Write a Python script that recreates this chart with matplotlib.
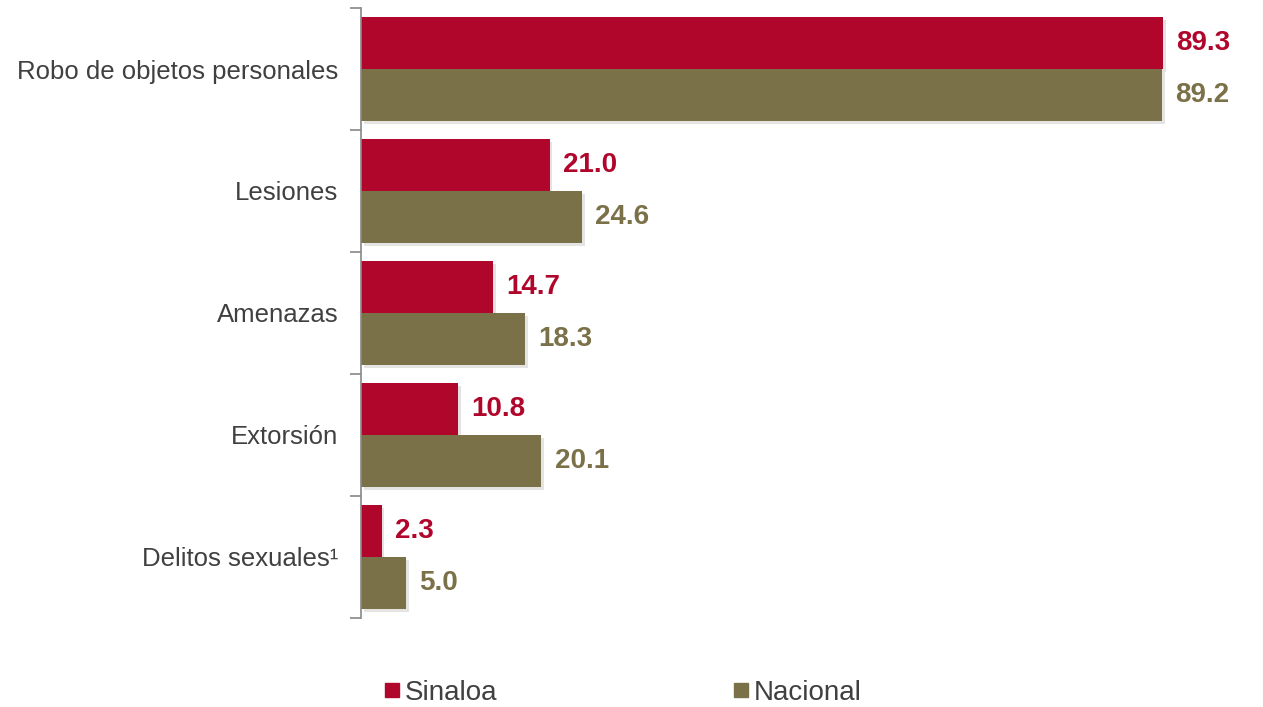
import matplotlib.pyplot as plt
import matplotlib.patheffects as pe
from matplotlib.lines import Line2D
import numpy as np

categories = ['Robo de objetos personales', 'Lesiones', 'Amenazas', 'Extorsión', 'Delitos sexuales¹']
sinaloa = [89.3, 21.0, 14.7, 10.8, 2.3]
nacional = [89.2, 24.6, 18.3, 20.1, 5.0]

red = '#B0062C'
olive = '#7B7149'

plt.rcParams['font.family'] = ['Liberation Sans', 'DejaVu Sans']

fig = plt.figure(figsize=(12.63, 7.07), dpi=100)
ax = fig.add_axes([361 / 1263, 89 / 707, 898 / 1263, 610 / 707])

y = np.arange(len(categories))
h = 0.425
shadow = [pe.SimplePatchShadow(offset=(2, -2), alpha=0.12), pe.Normal()]
ax.barh(y - h / 2, sinaloa, height=h, color=red, path_effects=shadow)
ax.barh(y + h / 2, nacional, height=h, color=olive, path_effects=shadow)

for yi, v in zip(y, sinaloa):
    ax.text(v + 1.45, yi - h / 2, f'{v:.1f}', color=red, fontsize=20, fontweight='bold', va='center', ha='left')
for yi, v in zip(y, nacional):
    ax.text(v + 1.45, yi + h / 2, f'{v:.1f}', color=olive, fontsize=20, fontweight='bold', va='center', ha='left')

ax.set_xlim(0, 100)
ax.set_ylim(len(categories) - 0.5, -0.5)
ax.set_yticks(y)
ax.set_yticklabels(categories, fontsize=18.5, color='#404040')
ax.tick_params(axis='y', which='major', length=0, pad=16.5)
ax.set_yticks(np.arange(-0.5, len(categories)), minor=True)
ax.tick_params(axis='y', which='minor', length=8, color='#888888', width=1.2)
ax.set_xticks([])
for s in ['top', 'right', 'bottom']:
    ax.spines[s].set_visible(False)
ax.spines['left'].set_color('#888888')
ax.spines['left'].set_linewidth(1.2)

handles = [Line2D([], [], marker='s', linestyle='none', color=red, markersize=10),
           Line2D([], [], marker='s', linestyle='none', color=olive, markersize=10)]
fig.legend(handles, ['Sinaloa', 'Nacional'], loc='center', bbox_to_anchor=(623 / 1263, 1 - 693 / 707),
           ncol=2, frameon=False, fontsize=20, handlelength=0.55, handletextpad=0.2,
           columnspacing=8.5, labelcolor='#404040')

fig.savefig('out.png', dpi=100)
